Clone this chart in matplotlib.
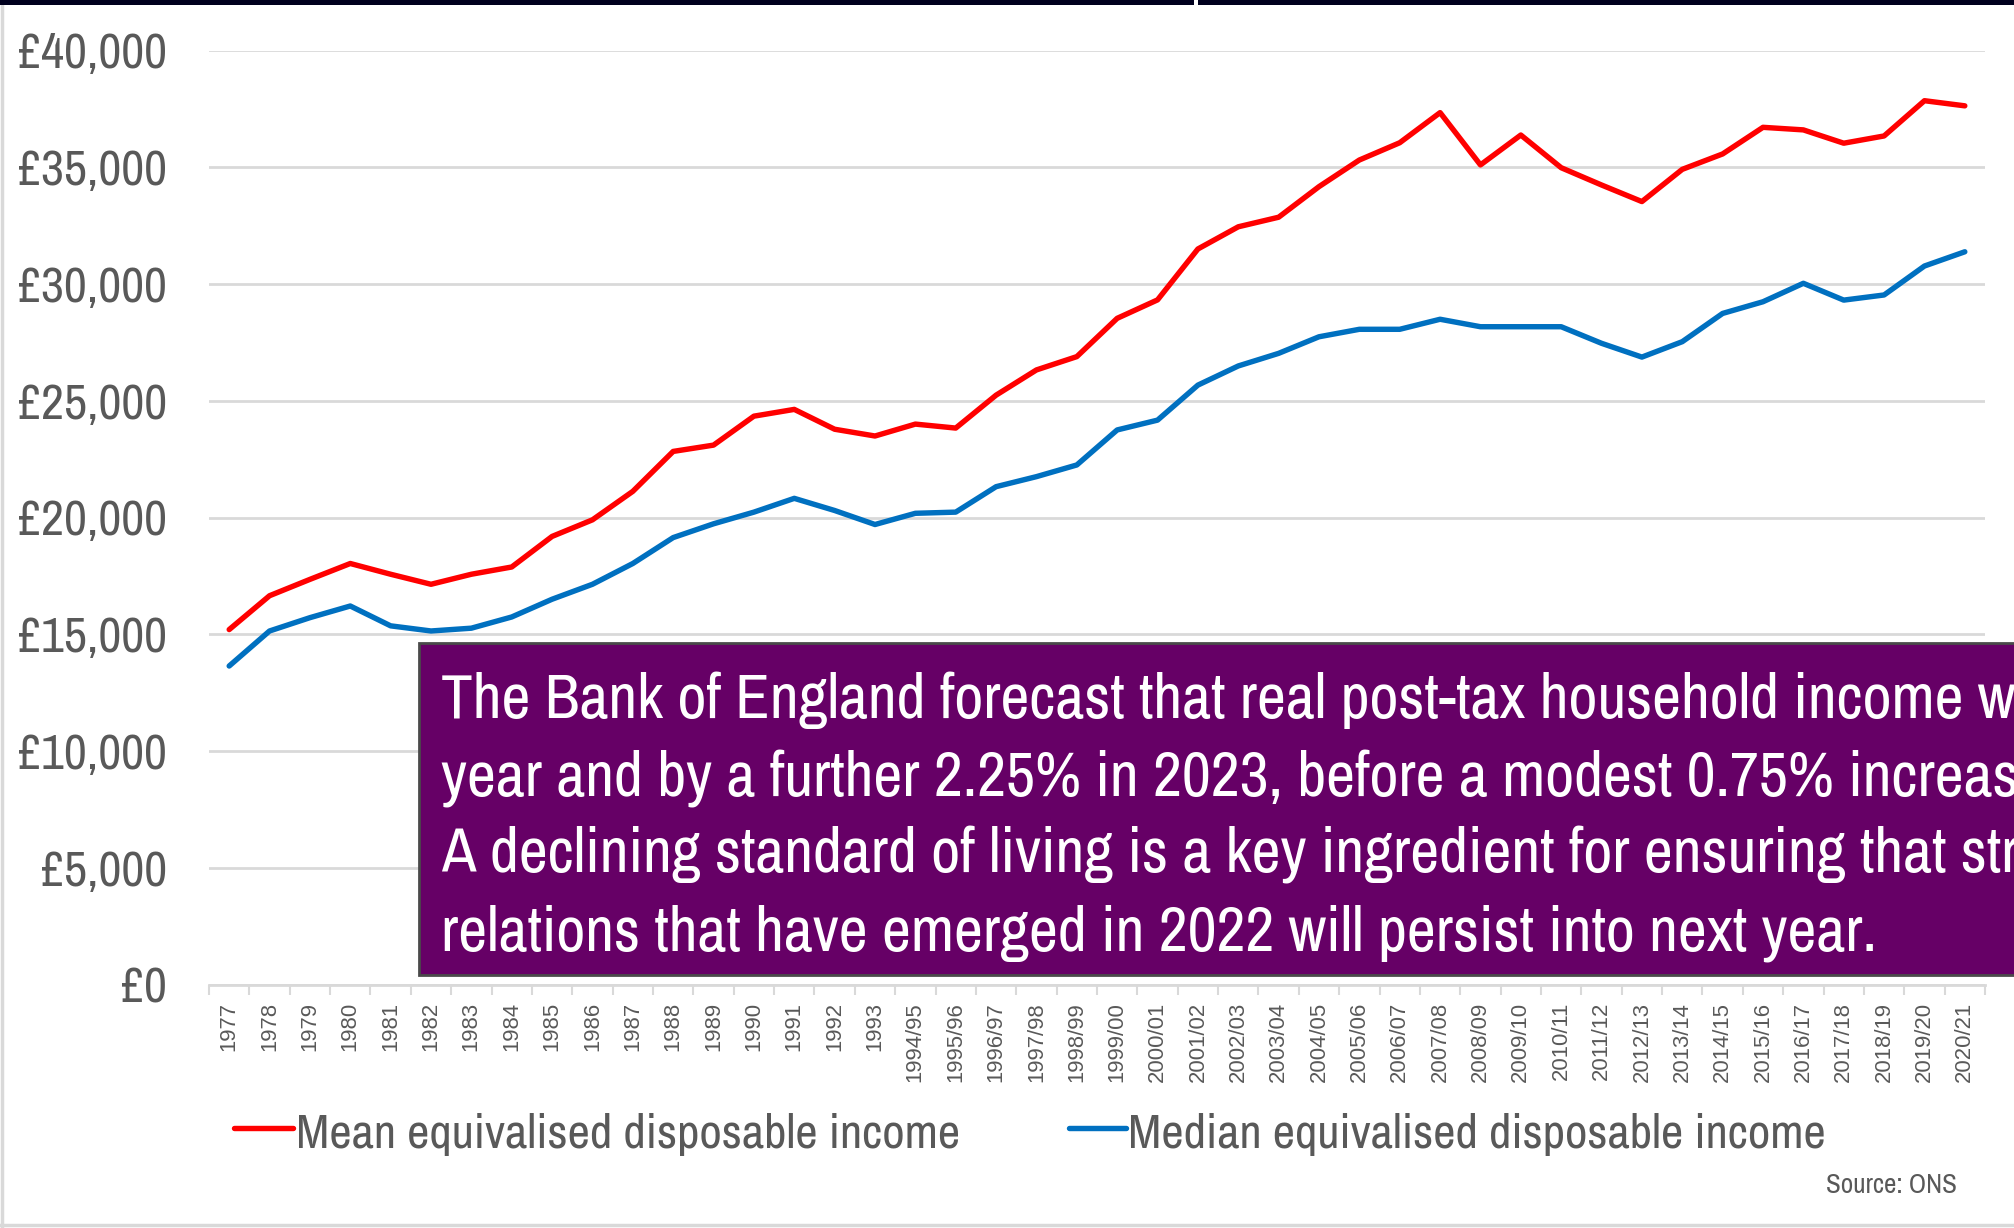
import matplotlib
matplotlib.use("Agg")
import matplotlib.pyplot as plt
from matplotlib import font_manager
from matplotlib.lines import Line2D
from matplotlib.patches import Rectangle
import numpy as np

# category labels along the x axis
years = ["1977", "1978", "1979", "1980", "1981", "1982", "1983", "1984", "1985",
         "1986", "1987", "1988", "1989", "1990", "1991", "1992", "1993",
         "1994/95", "1995/96", "1996/97", "1997/98", "1998/99", "1999/00",
         "2000/01", "2001/02", "2002/03", "2003/04", "2004/05", "2005/06",
         "2006/07", "2007/08", "2008/09", "2009/10", "2010/11", "2011/12",
         "2012/13", "2013/14", "2014/15", "2015/16", "2016/17", "2017/18",
         "2018/19", "2019/20", "2020/21"]

# mean equivalised disposable income (GBP)
mean_income = [15200, 16650, 17350, 18030, 17570, 17140, 17570, 17880, 19190,
               19900, 21120, 22830, 23100, 24340, 24630, 23780, 23490,
               24000, 23830, 25240, 26320, 26890, 28530,
               29320, 31500, 32450, 32860, 34170, 35310,
               36050, 37340, 35100, 36380, 34980, 34240,
               33530, 34910, 35570, 36710, 36600, 36030,
               36340, 37850, 37630]

# median equivalised disposable income (GBP)
median_income = [13640, 15140, 15710, 16210, 15360, 15140, 15260, 15740, 16500,
                 17140, 18030, 19140, 19730, 20230, 20820, 20300, 19700,
                 20180, 20230, 21320, 21750, 22250, 23750,
                 24170, 25670, 26490, 27030, 27740, 28060,
                 28060, 28490, 28170, 28170, 28170, 27460,
                 26870, 27530, 28740, 29240, 30030, 29310,
                 29530, 30770, 31380]

yticks = [0, 5000, 10000, 15000, 20000, 25000, 30000, 35000, 40000]
ytick_labels = ["£0", "£5,000", "£10,000", "£15,000", "£20,000", "£25,000",
                "£30,000", "£35,000", "£40,000"]

series_labels = ["Mean equivalised disposable income",
                 "Median equivalised disposable income"]

box_lines = [
    "The Bank of England forecast that real post-tax household income will fall this",
    "year and by a further 2.25% in 2023, before a modest 0.75% increase in 2024.",
    "A declining standard of living is a key ingredient for ensuring that strained industrial",
    "relations that have emerged in 2022 will persist into next year.",
]

# pick whatever narrow / regular sans is installed
available = {f.name for f in font_manager.fontManager.ttflist}


def pick(cands):
    for c in cands:
        if c in available:
            return c
    return "DejaVu Sans"


narrow = pick(["Liberation Sans Narrow", "Arial Narrow", "Archivo Narrow",
               "Roboto Condensed", "PT Sans Narrow", "IBM Plex Sans Condensed"])
regular = pick(["Liberation Sans", "Arimo", "Arial", "Helvetica"])

grey_txt = "#595959"
grid_col = "#d9d9d9"
red = "#ff0000"
blue = "#0070c0"

W, H = 2015, 1228
fig = plt.figure(figsize=(W / 100, H / 100), dpi=100)
fig.patch.set_facecolor("white")
renderer = fig.canvas.get_renderer()


def fit(text, family, target_px, ref=40.0):
    # font size that makes `text` about target_px wide
    t = fig.text(0, 0, text, family=family, fontsize=ref)
    w = t.get_window_extent(renderer).width
    t.remove()
    return ref * target_px / w


ytick_size = fit("£40,000", narrow, 149)
xtick_size = fit("1994/95", regular, 80)
legend_size = fit(series_labels[0], narrow, 665)
box_size = fit(box_lines[3], narrow, 1438)
source_size = fit("Source: ONS", narrow, 131)

ax = fig.add_axes([209 / W, 1 - 984.5 / H, 1776 / W, 934 / H])
x = np.arange(len(years))

ax.plot(x, mean_income, color=red, lw=3.9, solid_joinstyle="round",
        solid_capstyle="round", zorder=3)
ax.plot(x, median_income, color=blue, lw=3.9, solid_joinstyle="round",
        solid_capstyle="round", zorder=3)

ax.set_xlim(-0.5, len(years) - 0.5)
ax.set_ylim(0, 40000)

# horizontal gridlines only
ax.set_yticks(yticks)
ax.set_yticklabels(ytick_labels, family=narrow, fontsize=ytick_size, color=grey_txt)
ax.yaxis.grid(True, color=grid_col, lw=2)
ax.set_axisbelow(True)
ax.tick_params(axis="y", length=0, pad=30)

# category labels centred, tick marks on the boundaries
ax.set_xticks(x)
ax.set_xticklabels(years, rotation=90, family=regular, fontsize=xtick_size,
                   color=grey_txt, va="top", ha="center")
ax.set_xticks(np.arange(-0.5, len(years)), minor=True)
ax.tick_params(axis="x", which="major", length=0, pad=12.5)
ax.tick_params(axis="x", which="minor", length=7, width=1.5, color=grid_col)

for side in ["top", "right", "left"]:
    ax.spines[side].set_visible(False)
ax.spines["bottom"].set_color(grid_col)
ax.spines["bottom"].set_linewidth(2)

# legend entries laid out by hand under the axis labels
legend_y = 1 - 1128 / H
for (x0, x1, tx), col, lab in zip([(234, 293, 296), (1069, 1126, 1128)],
                                  [red, blue], series_labels):
    fig.lines.append(Line2D([x0 / W, x1 / W], [legend_y, legend_y],
                            transform=fig.transFigure, color=col, lw=3.9,
                            solid_capstyle="round"))
    fig.text(tx / W, 1 - 1148 / H, lab, ha="left", va="baseline",
             family=narrow, fontsize=legend_size, color=grey_txt)

fig.text(1957 / W, 1 - 1193 / H, "Source: ONS", ha="right", va="baseline",
         family=narrow, fontsize=source_size, color=grey_txt)

# purple commentary box running off the right edge
fig.patches.append(Rectangle((419 / W, 1 - 975 / H), 0.85, 332 / H,
                             transform=fig.transFigure, facecolor="#660066",
                             edgecolor="#4a4a4a", lw=2, zorder=5))
for line, yb in zip(box_lines, [718, 796, 873, 950]):
    fig.text(441 / W, 1 - yb / H, line, ha="left", va="baseline", family=narrow,
             fontsize=box_size, color="white", zorder=6)

# frame bits along the edges
fig.patches.append(Rectangle((0, 1 - 5 / H), 1, 5 / H, transform=fig.transFigure,
                             facecolor="#00001e", edgecolor="none", zorder=7))
fig.patches.append(Rectangle((1194 / W, 1 - 5 / H), 4 / W, 5 / H,
                             transform=fig.transFigure, facecolor="white",
                             edgecolor="none", zorder=8))
fig.lines.append(Line2D([2 / W, 2 / W], [0, 1 - 5 / H], transform=fig.transFigure,
                        color=grid_col, lw=2.5))
fig.lines.append(Line2D([0, 1], [3 / H, 3 / H], transform=fig.transFigure,
                        color=grid_col, lw=2.5))

fig.savefig("out.png", dpi=100)
